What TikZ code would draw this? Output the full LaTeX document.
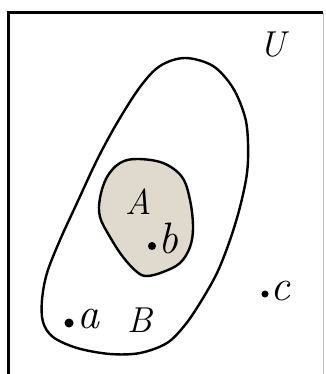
\documentclass[tikz,border=0pt]{standalone}
\usepackage{fontspec}
\definecolor{shade}{RGB}{224,217,205}
\begin{document}
\begin{tikzpicture}[x=1pt,y=-1pt,
  blob/.style={draw=black,line width=2.4pt,line join=round},
  capl/.style={inner sep=0pt,font=\fontsize{36}{36}\selectfont\itshape},
  lowl/.style={inner sep=0pt,font=\fontsize{44}{44}\selectfont\itshape},
  pt/.style={circle,fill=black,inner sep=0pt,minimum size=8pt}]
\useasboundingbox (0,0) rectangle (325,374);
\coordinate (tl) at (8,13);
\coordinate (tr) at (323,13);
\coordinate (bl) at (8,374);
\coordinate (br) at (323,374);
\draw[line width=3pt] (bl) -- (tl) -- (tr);
\draw[line width=0.8pt,black!25] (tr) -- (br);
% outer set B
\draw[blob] plot[smooth cycle,tension=0.55] coordinates {
 (185,58) (213,66) (233,88) (245,117) (248,143) (247,173) (240,207)
 (230,240) (217,273) (200,303) (185,325) (167,343) (140,353) (110,354)
 (77,348) (53,337) (43,322) (42,300) (47,273) (60,240) (77,203)
 (97,160) (117,123) (140,87) (160,66)};
% inner set A
\draw[blob,fill=shade] plot[smooth cycle,tension=0.6] coordinates {
 (137,159) (163,163) (182,177) (190,200) (193,227) (190,247) (180,263)
 (163,272) (147,276) (137,272) (123,257) (110,237) (100,217) (100,198)
 (107,177) (120,163)};
\node[capl] (U) at (273,45) {U};
\node[capl] (A) at (139,202) {A};
\node[capl] (B) at (140,320) {B};
\node[pt] (pb) at (152,246) {};
\node[lowl,anchor=base west] (b) at (158,253) {b};
\node[pt,minimum size=7pt] (pc) at (265,294) {};
\node[lowl,anchor=base west] (c) at (270,300) {c};
\node[pt,minimum size=9pt] (pa) at (69,323) {};
\node[lowl,anchor=base west] (a) at (77,328) {a};
\end{tikzpicture}
\end{document}
